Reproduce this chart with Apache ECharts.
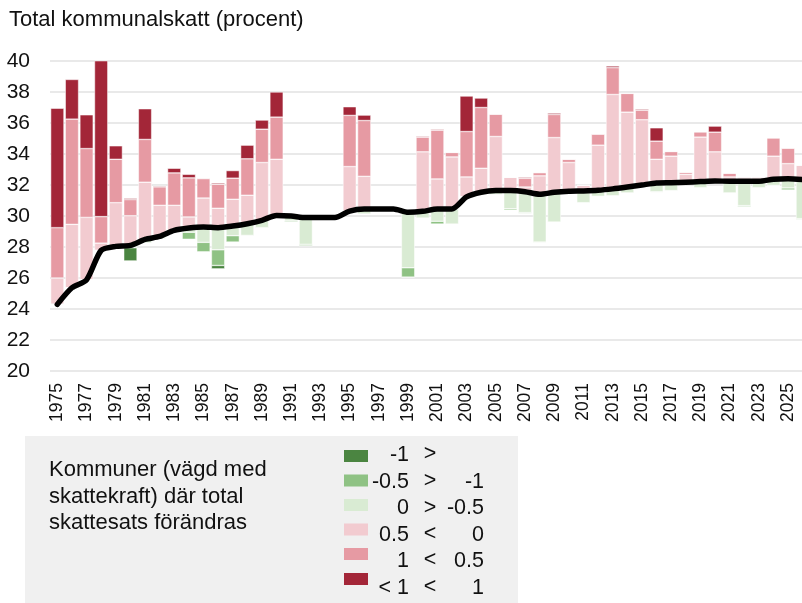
<!DOCTYPE html>
<html>
<head>
<meta charset="utf-8">
<script src="https://cdn.jsdelivr.net/npm/echarts@6/dist/echarts.min.js"></script>
<style>
  html, body { margin: 0; padding: 0; background: #fff; }
  #chart { width: 802px; height: 603px; }
</style>
</head>
<body>
<div id="chart"></div>
<script>
// years 1975 - 2026
var years = []
for (var y = 1975; y <= 2026; y++) years.push(String(y))

// genomsnittlig total kommunalskatt (svarta linjen)
var avgTax = [
  24.3, 25.37, 25.88, 27.78, 28.04, 28.1, 28.49, 28.68, 29.07, 29.22,
  29.29, 29.25, 29.35, 29.5, 29.72, 30.04, 30.0, 29.9, 29.9, 29.9,
  30.32, 30.45, 30.45, 30.45, 30.24, 30.3, 30.45, 30.45, 31.23, 31.53,
  31.64, 31.64, 31.57, 31.4, 31.53, 31.6, 31.62, 31.66, 31.75, 31.87,
  32.0, 32.13, 32.15, 32.18, 32.22, 32.26, 32.24, 32.24, 32.24, 32.37,
  32.41, 32.35
]

// höjning 0 - 0.5
var up05 = [
  1.7, 4.09, 4.03, 0.47, 2.82, 1.92, 3.69, 2.01, 1.62, 0.72,
  1.87, 1.25, 1.73, 1.84, 3.73, 3.62, 0, 0, 0.05, 0,
  2.87, 2.11, 0, 0, 0, 3.84, 1.94, 3.36, 1.29, 1.55,
  3.49, 0.86, 0.3, 1.19, 3.53, 1.85, 0.36, 2.91, 6.09, 4.83,
  4.21, 1.53, 1.71, 0.51, 2.87, 1.88, 0.28, 0.17, 0.17, 1.49,
  0.97, 0.93
]
// höjning 0.5 - 1
var up1 = [
  3.25, 6.79, 4.44, 1.71, 2.8, 1.04, 2.76, 1.19, 2.09, 2.52,
  1.25, 1.55, 1.36, 2.35, 2.15, 2.72, 0, 0, 0, 0,
  3.3, 3.6, 0, 0, 0, 0.95, 3.15, 0.29, 2.93, 3.92,
  1.44, 0, 0.56, 0.21, 1.49, 0.21, 0, 0.71, 1.73, 1.21,
  0.62, 1.17, 0.3, 0.13, 0.34, 1.27, 0.24, 0.09, 0.09, 1.18,
  1.0, 0
]
// höjning över 1
var upOver1 = [
  7.7, 2.56, 2.18, 10.22, 0.87, 0.08, 1.98, 0.06, 0.3, 0.23,
  0.04, 0.08, 0.49, 0.88, 0.59, 1.62, 0, 0, 0, 0,
  0.56, 0.35, 0, 0, 0, 0.06, 0.06, 0, 2.29, 0.61,
  0, 0, 0.07, 0, 0.09, 0, 0, 0.03, 0.11, 0,
  0.07, 0.86, 0, 0, 0, 0.39, 0, 0, 0, 0,
  0, 0
]
// sänkning 0 - -0.5
var down05 = [
  0, 0, 0, 0, 0, 0.1, 0.1, 0.1, 0.05, 0.27,
  0.99, 1.43, 0.62, 0.75, 0.47, 0.1, 0.32, 1.73, 0, 0,
  0.1, 0.32, 0, 0, 3.58, 0.43, 0.79, 0.97, 0, 0,
  0.25, 1.17, 1.35, 3.08, 1.92, 0, 0.76, 0.39, 0.44, 0.38,
  0, 0.56, 0.51, 0, 0.39, 0, 0.75, 1.57, 0.41, 0.4,
  0.6, 2.52
]
// sänkning -0.5 - -1
var down1 = [
  0, 0, 0, 0, 0, 0.05, 0.1, 0.05, 0, 0.45,
  0.61, 1.01, 0.41, 0.04, 0, 0, 0.07, 0.09, 0, 0,
  0, 0, 0, 0, 0.6, 0, 0.18, 0, 0, 0,
  0, 0.09, 0.05, 0.04, 0, 0, 0, 0, 0, 0.03,
  0, 0.04, 0, 0, 0, 0, 0, 0.07, 0, 0,
  0.13, 0.05
]
// sänkning mer än -1
var downOver1 = [
  0, 0, 0, 0, 0, 0.85, 0, 0, 0, 0,
  0.03, 0.22, 0, 0.02, 0.04, 0, 0, 0, 0, 0,
  0, 0, 0, 0, 0, 0, 0, 0, 0, 0,
  0, 0, 0, 0, 0, 0, 0, 0, 0, 0,
  0, 0, 0, 0, 0, 0, 0, 0, 0, 0,
  0, 0
]

var legendLeft = ['-1', '-0.5', '0', '0.5', '1', '< 1']
var legendMid = ['>', '>', '>', '<', '<', '<']
var legendRight = ['', '-1', '-0.5', '0', '0.5', '1']

var colors = {
  downOver1: '#4b8541',
  down1: '#8fc284',
  down05: '#d9ebd3',
  up05: '#f2cbd0',
  up1: '#e69aa3',
  upOver1: '#a32638'
}
var legendColors = [colors.downOver1, colors.down1, colors.down05, colors.up05, colors.up1, colors.upOver1]

var FONT = 'Liberation Sans, Arial, sans-serif'

// bas för de nedåtgående staplarna = linjen minus summan av sänkningarna
var downBase = avgTax.map(function (v, i) {
  return +(v - down05[i] - down1[i] - downOver1[i]).toFixed(3)
})

function segment (name, stack, data, color) {
  return {
    name: name,
    type: 'bar',
    stack: stack,
    data: data,
    barCategoryGap: '9%',
    barGap: '-100%',
    itemStyle: { color: color, borderColor: '#fff', borderWidth: 0.5 },
    emphasis: { disabled: true }
  }
}
function hidden (stack, data) {
  return {
    type: 'bar',
    stack: stack,
    data: data,
    barCategoryGap: '9%',
    barGap: '-100%',
    itemStyle: { color: 'transparent' },
    emphasis: { disabled: true },
    silent: true
  }
}

var graphics = [
  { type: 'rect', left: 25, top: 436, shape: { width: 493, height: 167 }, style: { fill: '#f0f0f0' } },
  {
    type: 'text', left: 49, top: 457,
    style: { text: 'Kommuner (vägd med\nskattekraft) där total\nskattesats förändras', font: '22px ' + FONT, lineHeight: 26.5, fill: '#111' }
  }
]
var swatchTops = [450, 474.5, 499, 523.5, 548, 573]
var textMid = [455, 482, 508.5, 535, 561, 588]
for (var i = 0; i < 6; i++) {
  graphics.push({ type: 'rect', shape: { x: 344, y: swatchTops[i], width: 24, height: 12 }, style: { fill: legendColors[i] } })
  graphics.push({ type: 'text', x: 409, y: textMid[i], style: { text: legendLeft[i], font: '21.5px ' + FONT, fill: '#111', align: 'right', verticalAlign: 'middle' } })
  graphics.push({ type: 'text', x: 430, y: textMid[i] - 0.5, style: { text: legendMid[i], font: '21.5px ' + FONT, fill: '#111', align: 'center', verticalAlign: 'middle' } })
  graphics.push({ type: 'text', x: 484, y: textMid[i], style: { text: legendRight[i], font: '21.5px ' + FONT, fill: '#111', align: 'right', verticalAlign: 'middle' } })
}

var chart = echarts.init(document.getElementById('chart'))
chart.setOption({
  animation: false,
  backgroundColor: '#fff',
  textStyle: { fontFamily: FONT },
  title: {
    text: 'Total kommunalskatt (procent)',
    left: 9,
    top: 9,
    padding: 0,
    textStyle: { fontSize: 22, fontWeight: 'normal', color: '#111', fontFamily: FONT }
  },
  grid: { left: 50, width: 760, top: 61, bottom: 232, outerBoundsMode: 'none', containLabel: false },
  xAxis: {
    type: 'category',
    data: years,
    boundaryGap: true,
    axisLine: { show: false },
    axisTick: { show: false },
    axisLabel: { interval: 1, rotate: 90, fontSize: 17.5, color: '#111', margin: 12 }
  },
  yAxis: {
    type: 'value',
    min: 20,
    max: 40,
    interval: 2,
    axisLine: { show: false },
    axisTick: { show: false },
    axisLabel: { fontSize: 21, color: '#111', margin: 20 },
    splitLine: { lineStyle: { color: '#e2e2e2', width: 1.5 } }
  },
  graphic: graphics,
  series: [
    hidden('up', avgTax),
    segment('0.5 < 0', 'up', up05, colors.up05),
    segment('1 < 0.5', 'up', up1, colors.up1),
    segment('< 1 < 1', 'up', upOver1, colors.upOver1),
    hidden('down', downBase),
    segment('-1 >', 'down', downOver1, colors.downOver1),
    segment('-0.5 > -1', 'down', down1, colors.down1),
    segment('0 > -0.5', 'down', down05, colors.down05),
    {
      name: 'Total kommunalskatt',
      type: 'line',
      data: avgTax,
      symbol: 'none',
      smooth: 0.25,
      z: 10,
      lineStyle: { color: '#000', width: 5.5, cap: 'round', join: 'round' }
    }
  ]
})
</script>
</body>
</html>
